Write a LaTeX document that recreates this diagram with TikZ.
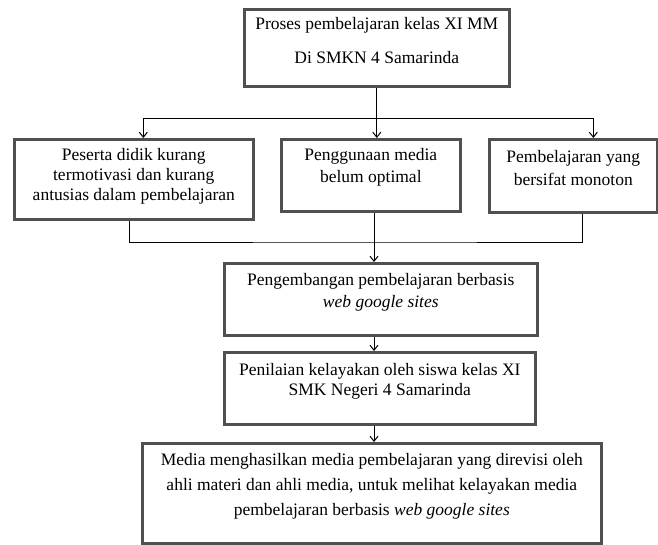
\documentclass[tikz,border=0pt]{standalone}
\usepackage{fontspec}
\setmainfont{Liberation Serif}
\usetikzlibrary{arrows.meta}

\definecolor{garis}{HTML}{505050}
% isi kotak: lebar, tinggi, jarak atas, teks
\newcommand{\isi}[4]{\parbox[t][#2][t]{#1}{\centering\vspace*{#3}\strut#4}}

\tikzset{
  kotak/.style={draw=garis, line width=2.6pt, inner sep=0pt, anchor=north west,
    font=\fontsize{17.5}{20}\selectfont},
  panah/.style={-{Straight Barb[length=5pt,width=8pt]}, line width=1pt},
  hubung/.style={line width=1pt}
}

\begin{document}
\begin{tikzpicture}[x=1pt,y=-1pt]
\useasboundingbox (0,0) rectangle (658,544);

\node[kotak] (atas) at (243,8) {\isi{265pt}{77pt}{6pt}{Proses pembelajaran kelas XI MM\\[14pt] Di SMKN 4 Samarinda}};

\node[kotak] (kiri) at (13,138) {\isi{239pt}{80pt}{7pt}{Peserta didik kurang\\ termotivasi dan kurang\\ antusias dalam pembelajaran}};
\node[kotak, font=\fontsize{17.5}{22}\selectfont] (tengah) at (280,138) {\isi{179pt}{72pt}{5.6pt}{Penggunaan media\\ belum optimal}};
\node[kotak, font=\fontsize{17.5}{23}\selectfont] (kanan) at (488,138) {\isi{168pt}{73pt}{6.9pt}{Pembelajaran yang\\ bersifat monoton}};

\node[kotak, font=\fontsize{17.5}{22}\selectfont] (kembang) at (223,262) {\isi{313pt}{72pt}{6.6pt}{Pengembangan pembelajaran berbasis\\ \textit{web google sites}}};
\node[kotak] (nilai) at (223,351) {\isi{311pt}{72pt}{9pt}{Penilaian kelayakan oleh siswa kelas XI\\ SMK Negeri 4 Samarinda}};
\node[kotak, font=\fontsize{17.5}{25}\selectfont] (hasil) at (141,442) {\isi{459pt}{100pt}{4.5pt}{Media menghasilkan media pembelajaran yang direvisi oleh\\ ahli materi dan ahli media, untuk melihat kelayakan media\\ pembelajaran berbasis \textit{web google sites}}};

% percabangan atas
\coordinate (bagi) at (atas.south |- 0,118);
\draw[panah] (atas.south) -- (atas.south |- tengah.north);
\draw[panah] (bagi) -| ([xshift=9.5pt]kiri.north);
\draw[panah] (bagi) -| ([xshift=20pt]kanan.north);

% penggabungan
\coordinate (gabung) at (374,242);
\draw[hubung] ([xshift=-4.5pt]kiri.south) |- (gabung) -| ([xshift=9pt]kanan.south);
\draw[panah] (tengah.south -| gabung) -- (gabung |- kembang.north);
\draw[panah] (kembang.south -| gabung) -- (gabung |- nilai.north);
\draw[panah] (nilai.south -| gabung) -- (gabung |- hasil.north);
\end{tikzpicture}
\end{document}
